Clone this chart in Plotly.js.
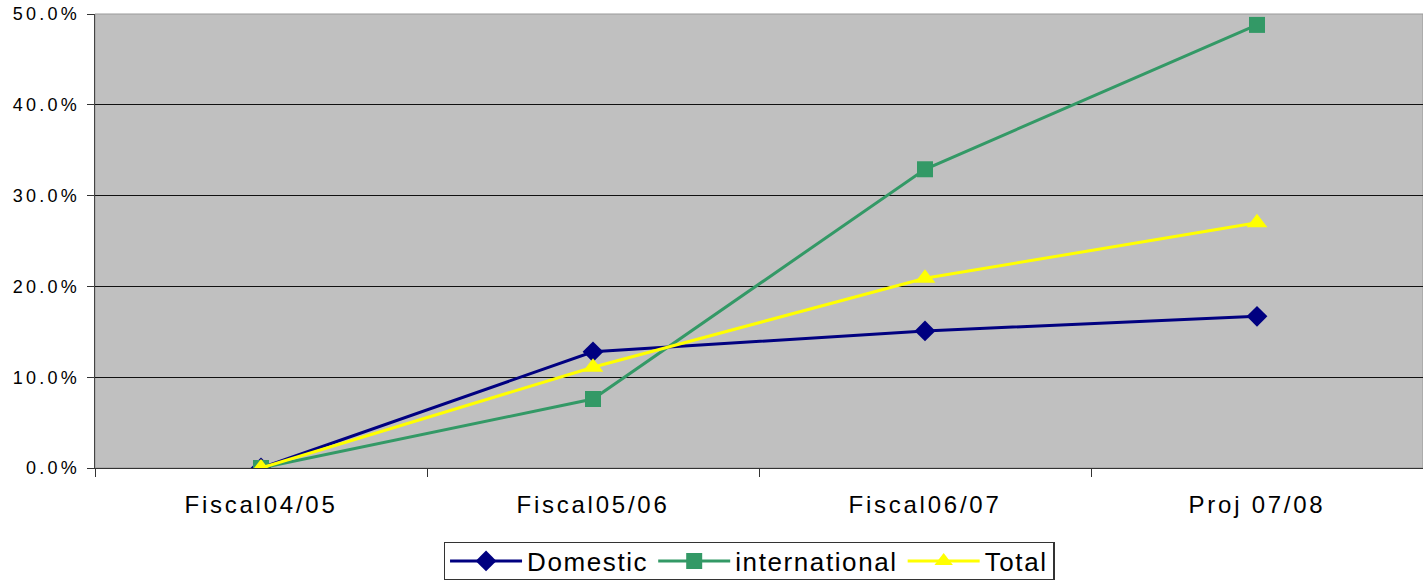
<!DOCTYPE html>
<html><head><meta charset="utf-8">
<script src="https://cdn.plot.ly/plotly-3.0.1.min.js"></script>
<style>html,body{margin:0;padding:0;background:#fff}#chart{width:1423px;height:580px}
#chart .xtick text{letter-spacing:2.75px}
#chart .ytick text{letter-spacing:3.2px}
.legendtext{letter-spacing:1.6px}
</style>
</head><body><div id="chart"></div>
<script>
const categories = ["Fiscal04/05", "Fiscal05/06", "Fiscal06/07", "Proj 07/08"];
const domestic = [0, 12.8, 15.1, 16.7];
const international = [0, 7.6, 32.9, 48.8];
const total = [0, 11.1, 20.9, 27.0];

const traces = [
  {x: categories, y: domestic, name: "Domestic", type: "scatter", mode: "lines+markers",
   line: {color: "#000080", width: 3}, marker: {symbol: "diamond", size: 16, color: "#000080"}},
  {x: categories, y: international, name: "international", type: "scatter", mode: "lines+markers",
   line: {color: "#339966", width: 3}, marker: {symbol: "square", size: 16, color: "#339966"}},
  {x: categories, y: total, name: "Total", type: "scatter", mode: "lines+markers",
   line: {color: "#FFFF00", width: 3}, marker: {symbol: "triangle-up", size: 18, color: "#FFFF00"}}
];

const layout = {
  width: 1423, height: 580,
  margin: {l: 95, r: 0, t: 14, b: 112, pad: 0, autoexpand: false},
  paper_bgcolor: "#ffffff", plot_bgcolor: "#C0C0C0",
  font: {family: "Liberation Sans, Arial, sans-serif", color: "#000", size: 18},
  showlegend: true,
  legend: {orientation: "h", x: 0.4925, xanchor: "center", y: -0.2048, yanchor: "middle",
           bordercolor: "#333", borderwidth: 1.5, bgcolor: "#fff", font: {size: 26},
           itemwidth: 72, tracegroupgap: 0},
  xaxis: {type: "category", tickson: "boundaries", ticks: "outside", ticklen: 8, tickcolor: "#333",
          showline: true, linecolor: "#333", linewidth: 1, showgrid: false,
          tickfont: {size: 24}, range: [-0.5, 3.5], fixedrange: true, automargin: false,
          ticklabelstandoff: 15},
  yaxis: {range: [0, 50], dtick: 10, tickformat: ".1f", ticksuffix: "%", ticks: "outside",
          ticklen: 7, tickcolor: "#333", showline: true, linecolor: "#444", linewidth: 1.5,
          showgrid: true, gridcolor: "#111", gridwidth: 1, zeroline: false,
          tickfont: {size: 18}, fixedrange: true, automargin: false, ticklabelstandoff: 3},
  shapes: [{type: "rect", xref: "paper", yref: "paper", x0: 0, x1: 1, y0: 0, y1: 1,
            line: {color: "#999", width: 1}, layer: "below"}]
};
Plotly.newPlot("chart", traces, layout, {displayModeBar: false, staticPlot: true}).then(function (gd) {
  const bg = gd.querySelector(".legend rect.bg");
  if (bg) {
    const h = parseFloat(bg.getAttribute("height"));
    const y = parseFloat(bg.getAttribute("y")) || 0;
    const target = 37;
    if (h > target) {
      bg.setAttribute("y", y + (h - target) / 2);
      bg.setAttribute("height", target);
    }
  }
});
</script></body></html>
